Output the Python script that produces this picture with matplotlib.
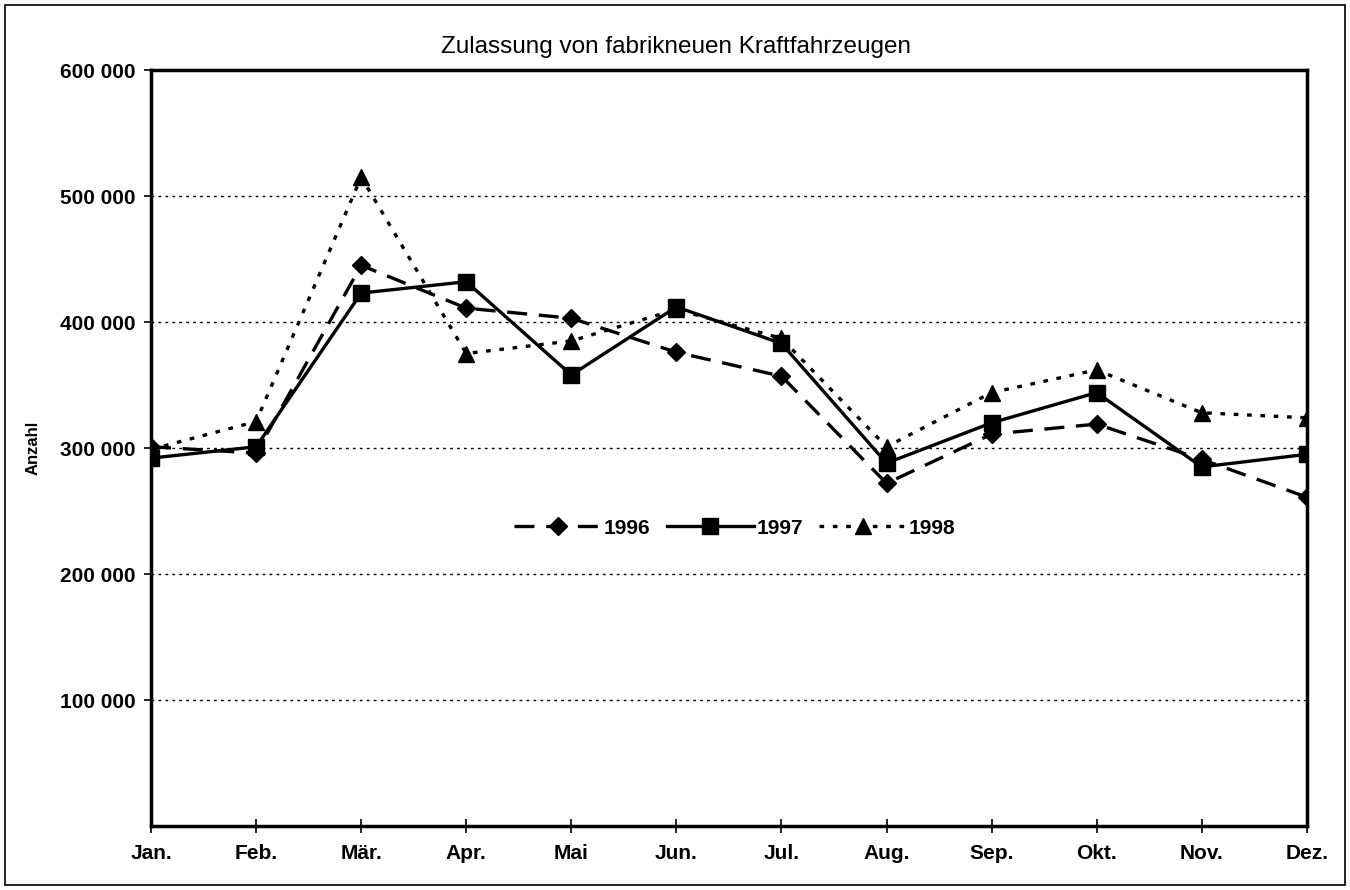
import matplotlib.pyplot as plt
from matplotlib.patches import Rectangle
from matplotlib.ticker import FuncFormatter

plt.rcParams['font.family'] = ['Liberation Sans', 'DejaVu Sans']

# Monate und Zulassungszahlen
monate = ['Jan.', 'Feb.', 'Mär.', 'Apr.', 'Mai', 'Jun.', 'Jul.', 'Aug.', 'Sep.', 'Okt.', 'Nov.', 'Dez.']
werte_1996 = [301000, 296000, 445000, 411000, 403000, 376000, 357000, 272000, 311000, 319000, 291000, 261000]
werte_1997 = [292000, 301000, 423000, 432000, 358000, 412000, 383000, 288000, 320000, 344000, 285000, 295000]
werte_1998 = [299000, 321000, 515000, 375000, 385000, 410000, 387000, 301000, 344000, 362000, 328000, 324000]
y_ticks = [100000, 200000, 300000, 400000, 500000, 600000]

fig = plt.figure(figsize=(13.5, 8.9), dpi=100)
ax = fig.add_axes([0.1119, 0.0719, 0.8561, 0.8494])

x = list(range(len(monate)))
ax.plot(x, werte_1996, color='black', lw=2.4, ls=(0, (6, 3.5)), marker='D', ms=9, label='1996')
ax.plot(x, werte_1997, color='black', lw=2.4, ls='-', marker='s', ms=11, label='1997')
ax.plot(x, werte_1998, color='black', lw=2.4, ls=(0, (1.4, 2.6)), marker='^', ms=12, label='1998')

ax.set_xlim(0, 11)
ax.set_ylim(0, 600000)
ax.set_xticks(x)
ax.set_xticklabels(monate)
ax.set_yticks(y_ticks)
ax.yaxis.set_major_formatter(FuncFormatter(lambda v, p: f'{int(v):,}'.replace(',', ' ')))
for lab in ax.get_xticklabels() + ax.get_yticklabels():
    lab.set_fontweight('bold')
    lab.set_fontsize(15)
ax.tick_params(axis='y', direction='out', length=5, width=1.2, pad=6)
ax.tick_params(axis='x', direction='inout', length=10, width=1.2, pad=8)

for v in y_ticks[:-1]:
    ax.axhline(v, color='black', lw=1.0, ls=(0, (2, 3)), zorder=0)

for s in ax.spines.values():
    s.set_linewidth(2.5)

# Titel ist auf die Abbildung zentriert, nicht auf die Achsen
ax.set_title('Zulassung von fabrikneuen Kraftfahrzeugen', fontsize=17.5, x=0.454, pad=12)
ax.set_ylabel('Anzahl', fontsize=12, fontweight='bold')
ax.yaxis.set_label_coords(-0.096, 0.5)

ax.legend(loc='center', bbox_to_anchor=(0.505, 0.394), ncol=3, frameon=False,
          prop={'weight': 'bold', 'size': 15}, handlelength=4.2, columnspacing=0.8,
          handletextpad=0.1)

fig.patches.append(Rectangle((0.004, 0.006), 0.992, 0.988, transform=fig.transFigure,
                             fill=False, edgecolor='black', lw=1.2))

fig.savefig('out.png', dpi=100)
